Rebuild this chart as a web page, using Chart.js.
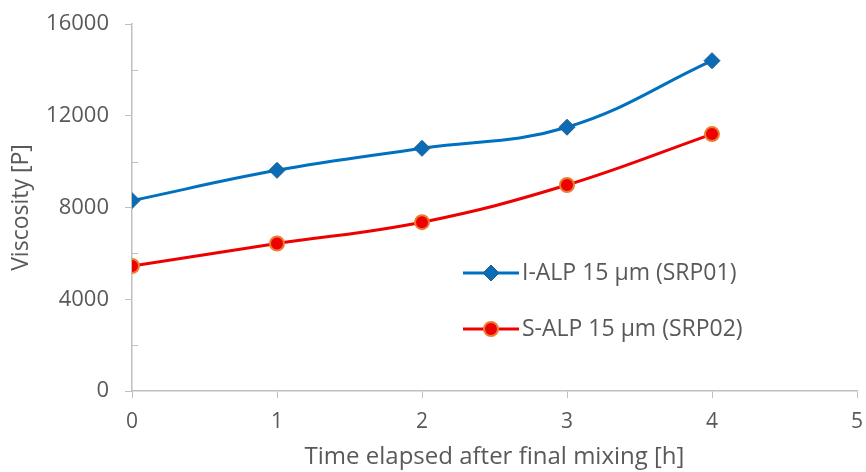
<!DOCTYPE html>
<html lang="en">
<head>
    <meta charset="UTF-8">
    <title>Viscosity</title>
    <script src="https://cdn.jsdelivr.net/npm/chart.js"></script>
    <style>
        html, body { margin: 0; padding: 0; background: #fff; }
        #wrap { width: 866px; height: 472px; }
    </style>
</head>
<body>
    <div id="wrap"><canvas id="myChart" width="866" height="472"></canvas></div>

    <script>
        // data
        const hours = [0, 1, 2, 3, 4];
        const ialp = [8300, 9620, 10580, 11500, 14400];
        const salp = [5450, 6430, 7360, 8980, 11200];
        const seriesNames = ['I-ALP 15 µm (SRP01)', 'S-ALP 15 µm (SRP02)'];
        const yMinor = [2000, 6000, 10000, 14000];

        const axisGrey = '#bfbfbf';
        const textGrey = '#595959';
        const fontFam = '"Open Sans", sans-serif';

        const toPts = (xs, ys) => xs.map((x, i) => ({ x: x, y: ys[i] }));

        // minor ticks inside the plot on the y axis
        const minorTicks = {
            id: 'minorTicks',
            afterDraw(chart) {
                const ctx = chart.ctx;
                const y = chart.scales.y;
                const left = chart.chartArea.left;
                ctx.save();
                ctx.strokeStyle = axisGrey;
                ctx.lineWidth = 1;
                yMinor.forEach(v => {
                    const py = Math.round(y.getPixelForValue(v)) + 0.5;
                    ctx.beginPath();
                    ctx.moveTo(left, py);
                    ctx.lineTo(left + 6, py);
                    ctx.stroke();
                });
                ctx.restore();
            }
        };

        // legend sitting inside the plot
        const innerLegend = {
            id: 'innerLegend',
            afterDraw(chart) {
                const ctx = chart.ctx;
                const x0 = 463, rowY = [273, 329];
                ctx.save();
                chart.data.datasets.forEach((ds, i) => {
                    const yy = rowY[i];
                    ctx.strokeStyle = ds.borderColor;
                    ctx.lineWidth = 3;
                    ctx.beginPath();
                    ctx.moveTo(x0, yy);
                    ctx.lineTo(x0 + 56, yy);
                    ctx.stroke();
                    ctx.fillStyle = ds.pointBackgroundColor;
                    ctx.strokeStyle = ds.pointBorderColor;
                    ctx.lineWidth = ds.pointBorderWidth;
                    ctx.beginPath();
                    if (ds.pointStyle === 'rectRot') {
                        const r = 8;
                        ctx.moveTo(x0 + 28, yy - r);
                        ctx.lineTo(x0 + 28 + r, yy);
                        ctx.lineTo(x0 + 28, yy + r);
                        ctx.lineTo(x0 + 28 - r, yy);
                        ctx.closePath();
                    } else {
                        ctx.arc(x0 + 28, yy, 7, 0, Math.PI * 2);
                    }
                    ctx.fill();
                    ctx.stroke();
                    ctx.fillStyle = textGrey;
                    ctx.font = '23px ' + fontFam;
                    ctx.textBaseline = 'middle';
                    ctx.fillText(ds.label, x0 + 59, yy);
                });
                ctx.restore();
            }
        };

        const data = {
            datasets: [{
                label: seriesNames[0],
                data: toPts(hours, ialp),
                borderColor: '#0070c0',
                borderWidth: 3,
                tension: 0.4,
                pointStyle: 'rectRot',
                pointRadius: 8,
                pointHoverRadius: 8,
                pointBackgroundColor: '#0b6cb5',
                pointBorderColor: '#1d5f8c',
                pointBorderWidth: 1
            }, {
                label: seriesNames[1],
                data: toPts(hours, salp),
                borderColor: '#ee0000',
                borderWidth: 3,
                tension: 0.4,
                pointStyle: 'circle',
                pointRadius: 7,
                pointHoverRadius: 7,
                pointBackgroundColor: '#ee0000',
                pointBorderColor: '#ed7d31',
                pointBorderWidth: 2
            }]
        };

        const options = {
            responsive: false,
            animation: false,
            layout: { padding: { top: 24, right: 8, left: 8, bottom: 0 } },
            plugins: { legend: { display: false }, tooltip: { enabled: false } },
            scales: {
                x: {
                    type: 'linear',
                    min: 0, max: 5,
                    ticks: { stepSize: 1, color: textGrey, padding: 11, font: { size: 21, family: fontFam } },
                    grid: { drawOnChartArea: false, tickLength: 7, color: axisGrey },
                    border: { color: axisGrey, width: 1.5 },
                    title: { display: true, text: 'Time elapsed after final mixing [h]', color: textGrey,
                        font: { size: 24, family: fontFam }, padding: { top: 0, bottom: 0 } },
                    afterFit(s) { s.height = 81; s.paddingLeft = 0; s.paddingRight = 0; }
                },
                y: {
                    min: 0, max: 16000,
                    ticks: { stepSize: 4000, color: textGrey, padding: 16, font: { size: 22, family: fontFam },
                        callback: v => String(v) },
                    grid: { drawOnChartArea: false, tickLength: 7, color: axisGrey },
                    border: { color: axisGrey, width: 1.5 },
                    title: { display: true, text: 'Viscosity [P]', color: textGrey,
                        font: { size: 23, family: fontFam }, padding: { top: 0, bottom: 0 } },
                    afterFit(s) { s.width = 124; s.paddingTop = 0; s.paddingBottom = 0; }
                }
            }
        };

        const ctx = document.querySelector('#myChart').getContext('2d');
        new Chart(ctx, { type: 'line', data: data, options: options, plugins: [minorTicks, innerLegend] });
    </script>
</body>
</html>
